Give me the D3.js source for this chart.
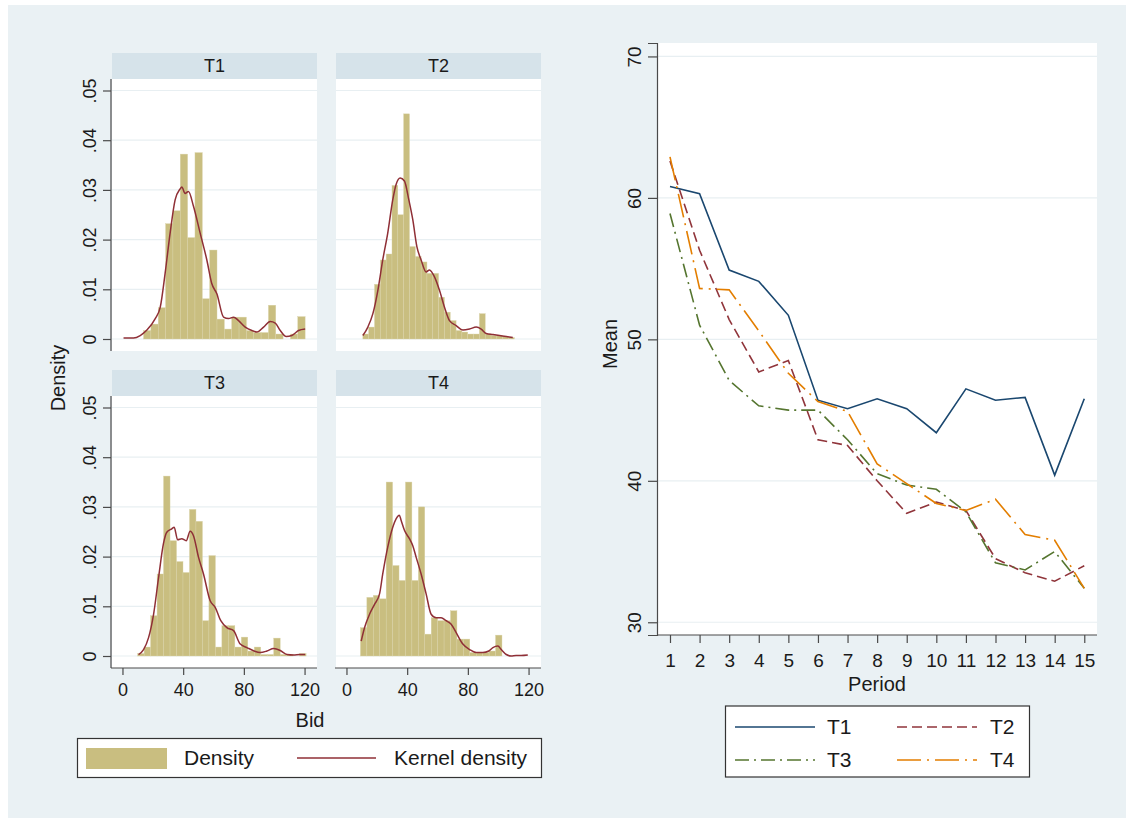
<!DOCTYPE html>
<html>
<head>
<meta charset="utf-8">
<title>Bids: density by treatment and mean by period</title>
<script src="https://cdn.jsdelivr.net/npm/d3@7"></script>
<style>
  body { margin: 0; background: #fff; }
  svg text { font-family: "Liberation Sans", Arial, sans-serif; fill: #1a1a1a; }
</style>
</head>
<body>
<svg id="chart" width="1134" height="824"></svg>
<script>
// ---- data ----
const treatments = ["T1", "T2", "T3", "T4"];

// histogram bins: first edge and width per treatment, then bar heights (density)
const binStart = [13.9, 10.8, 10.0, 9.2];
const binWidth = [4.84, 3.84, 4.27, 4.24];
const histT1 = [0.0017, 0.003, 0.0063, 0.0232, 0.0258, 0.0372, 0.0204, 0.0375, 0.0081, 0.0179, 0.004,
  0.002, 0.0044, 0.0044, 0.0017, 0.0013, 0.0013, 0.0068, 0.001, 0, 0.001, 0.0045];
const histT2 = [0.001, 0.0024, 0.011, 0.0159, 0.0171, 0.0309, 0.025, 0.0453, 0.0186, 0.0166, 0.0155, 0.0132,
  0.0132, 0.0084, 0.0054, 0.0037, 0.0017, 0.0014, 0.001, 0.001, 0.0051, 0.001, 0.0007, 0.0007, 0.0005, 0.0003];
const histT3 = [0.0005, 0.0018, 0.0081, 0.0165, 0.0362, 0.0232, 0.019, 0.0168, 0.0295, 0.0271, 0.0071, 0.0202,
  0.0018, 0.0061, 0.0061, 0.0018, 0.0038, 0.001, 0.0018, 0.0003, 0.0003, 0.0036, 0.0003, 0.0003, 0, 0.0005];
const histT4 = [0.0057, 0.0118, 0.0122, 0.0115, 0.035, 0.0182, 0.0152, 0.035, 0.0152, 0.030, 0.0044, 0.0077,
  0.0071, 0.0071, 0.0091, 0.0034, 0.0034, 0.0007, 0.0007, 0.0007, 0.001, 0.0042, 0, 0, 0, 0];

// kernel density curves: [bid, density]
const kdeT1 = [[0.7, 0.0002], [7.3, 0.0002], [11.7, 0.0007], [16.1, 0.0018], [21.6, 0.0041], [24.9, 0.0064],
  [28.1, 0.0132], [31.4, 0.0213], [34.7, 0.028], [38.0, 0.0302], [39.1, 0.0306], [41.3, 0.0293], [43.5, 0.0297],
  [46.8, 0.0267], [51.2, 0.0213], [55.6, 0.0159], [58.9, 0.0111], [62.2, 0.0091], [66.6, 0.0044], [69.9, 0.0041],
  [73.2, 0.0044], [76.5, 0.0037], [80.9, 0.0024], [85.3, 0.0017], [88.6, 0.0014], [93.0, 0.0024], [97.4, 0.0035],
  [100.7, 0.0032], [104.0, 0.0017], [107.9, 0.0005], [111.6, 0.0007], [116.0, 0.0017], [120.4, 0.002]];
const kdeT2 = [[10.8, 0.0007], [14.1, 0.0024], [17.4, 0.0051], [20.7, 0.0098], [23.9, 0.0159], [27.2, 0.0213],
  [30.5, 0.028], [32.7, 0.0311], [35.4, 0.0324], [38.2, 0.0318], [41.1, 0.028], [43.7, 0.024], [46.4, 0.0186],
  [49.2, 0.0159], [52.5, 0.0135], [54.7, 0.0139], [58.0, 0.0125], [61.3, 0.0098], [64.6, 0.0064], [67.9, 0.0037],
  [72.3, 0.0027], [76.7, 0.0018], [81.1, 0.002], [85.5, 0.0024], [88.8, 0.002], [92.1, 0.0011], [96.5, 0.0009],
  [100.9, 0.0007], [105.3, 0.0005], [109.6, 0.0003]];
const kdeT3 = [[10.6, 0.0003], [13.9, 0.0013], [17.2, 0.0037], [20.5, 0.0084], [23.8, 0.0158], [27.0, 0.0226],
  [29.2, 0.0249], [32.5, 0.0256], [34.1, 0.0259], [36.3, 0.0234], [39.1, 0.0236], [42.0, 0.0232], [44.6, 0.0251],
  [46.8, 0.0242], [50.1, 0.0199], [53.4, 0.0165], [57.8, 0.0111], [61.1, 0.0098], [64.8, 0.0071], [68.8, 0.0057],
  [73.2, 0.0051], [77.6, 0.0024], [82.0, 0.0017], [86.8, 0.001], [90.8, 0.0007], [95.2, 0.001], [99.6, 0.0015],
  [104.0, 0.0011], [108.4, 0.0003], [112.7, 0.0002], [117.1, 0.0003], [120.4, 0.0003]];
const kdeT4 = [[9.7, 0.003], [11.9, 0.0057], [15.2, 0.0084], [18.5, 0.0104], [21.8, 0.0125], [23.9, 0.0165],
  [27.2, 0.0219], [30.5, 0.0259], [32.7, 0.0276], [34.9, 0.0283], [36.0, 0.0273], [38.2, 0.0253], [41.5, 0.0236],
  [43.7, 0.0222], [45.9, 0.0199], [49.2, 0.0165], [52.5, 0.0125], [55.8, 0.0084], [59.1, 0.0077], [62.4, 0.0077],
  [65.7, 0.0071], [69.0, 0.0064], [72.3, 0.0047], [76.7, 0.0024], [81.1, 0.0013], [85.5, 0.0007], [89.9, 0.0007],
  [93.8, 0.001], [96.5, 0.0017], [99.8, 0.002], [102.0, 0.0013], [105.3, 0.0003], [108.5, 0], [111.8, 0.0001],
  [115.1, 0.0001], [119.5, 0.0002]];

const densityTicks = [0, 0.01, 0.02, 0.03, 0.04, 0.05];
const bidTicks = [0, 40, 80, 120];

// mean bid by period
const periods = [1, 2, 3, 4, 5, 6, 7, 8, 9, 10, 11, 12, 13, 14, 15];
const meanT1 = [60.8, 60.3, 54.9, 54.1, 51.7, 45.7, 45.1, 45.8, 45.1, 43.4, 46.5, 45.7, 45.9, 40.4, 45.8];
const meanT2 = [62.6, 56.3, 51.4, 47.7, 48.5, 42.9, 42.5, 40.0, 37.7, 38.5, 37.9, 34.5, 33.5, 32.9, 34.0];
const meanT3 = [58.9, 51.0, 47.1, 45.3, 45.0, 45.0, 42.9, 40.5, 39.7, 39.4, 37.8, 34.2, 33.7, 35.0, 32.4];
const meanT4 = [62.9, 53.6, 53.5, 50.6, 47.6, 45.6, 44.9, 41.2, 39.8, 38.4, 37.9, 38.7, 36.2, 35.8, 32.4];
const meanTicks = [30, 40, 50, 60, 70];

// ---- styles ----
const BG = "#eaf1f4", STRIP = "#d6e3ea", GRID = "#e8eff2", AXIS = "#4a4a4a";
const BAR = "#c9be80", KDE = "#8f2f36";
const lineColors = ["#1a476f", "#90353b", "#55752f", "#e37e00"];
const lineDash = [null, "10,5", "14,5,2,5", "24,6,2,6"];

const svg = d3.select("#chart");
svg.append("rect").attr("x", 8).attr("y", 5).attr("width", 1118).attr("height", 813).attr("fill", BG);

function styleAxis(g) {
  g.select(".domain").attr("stroke", AXIS).attr("stroke-width", 1.2);
  g.selectAll(".tick line").attr("stroke", AXIS).attr("stroke-width", 1.2);
}

// ---- left: histograms by treatment ----
const hists = [histT1, histT2, histT3, histT4];
const kdes = [kdeT1, kdeT2, kdeT3, kdeT4];
const colX = [112, 336], rowTop = [53, 370];
const pw = 205, hh = 26, ph = 272;

treatments.forEach((t, i) => {
  const col = i % 2, row = Math.floor(i / 2);
  const x0 = colX[col], top = rowTop[row], pTop = top + hh;
  const g = svg.append("g");

  // header strip
  g.append("rect").attr("x", x0).attr("y", top).attr("width", pw).attr("height", hh).attr("fill", STRIP);
  g.append("text").attr("x", x0 + pw / 2).attr("y", top + hh / 2).attr("dy", "0.35em")
    .attr("text-anchor", "middle").style("font-size", "18px").text(t);

  // plot region
  g.append("rect").attr("x", x0).attr("y", pTop).attr("width", pw).attr("height", ph).attr("fill", "#fff");

  const x = d3.scaleLinear().domain([-6.9, 128.2]).range([x0, x0 + pw]);
  const y = d3.scaleLinear().domain([-12 / 4970, 260 / 4970]).range([pTop + ph, pTop]);

  g.selectAll("line.grid").data(densityTicks).join("line").attr("class", "grid")
    .attr("x1", x0).attr("x2", x0 + pw).attr("y1", d => y(d)).attr("y2", d => y(d))
    .attr("stroke", GRID).attr("stroke-width", 1.2);

  const bars = hists[i].map((h, k) => ({ a: binStart[i] + k * binWidth[i], b: binStart[i] + (k + 1) * binWidth[i], h }));
  g.selectAll("rect.bar").data(bars.filter(d => d.h > 0)).join("rect").attr("class", "bar")
    .attr("x", d => x(d.a)).attr("width", d => x(d.b) - x(d.a))
    .attr("y", d => y(d.h)).attr("height", d => y(0) - y(d.h))
    .attr("fill", BAR).attr("stroke", "#d9d3a8").attr("stroke-width", 0.4);

  const kline = d3.line().x(d => x(d[0])).y(d => y(d[1])).curve(d3.curveMonotoneX);
  g.append("path").datum(kdes[i]).attr("d", kline)
    .attr("fill", "none").attr("stroke", KDE).attr("stroke-width", 1.5);

  if (col === 0) {
    const ya = g.append("g").attr("transform", `translate(${x0 - 1},0)`)
      .call(d3.axisLeft(y).tickValues(densityTicks).tickSizeOuter(0).tickSize(8)
        .tickFormat(d => d === 0 ? "0" : d3.format(".2f")(d).replace(/^0/, "")));
    styleAxis(ya);
    ya.select(".domain").attr("d", `M0,${pTop}V${pTop + ph}`);
    ya.selectAll(".tick text").attr("x", 0).attr("y", 0).attr("dy", "0.35em")
      .attr("text-anchor", "middle").attr("transform", "translate(-21,0) rotate(-90)")
      .style("font-size", "18px").attr("fill", "#1a1a1a");
  }
  if (row === 1) {
    const xa = g.append("g").attr("transform", `translate(0,${pTop + ph})`)
      .call(d3.axisBottom(x).tickValues(bidTicks).tickSizeOuter(0).tickSize(7).tickPadding(8));
    styleAxis(xa);
    xa.select(".domain").attr("d", `M${x0 - 1},0H${x0 + pw}`);
    xa.selectAll(".tick text").style("font-size", "18px").attr("fill", "#1a1a1a");
  }
});

svg.append("text").attr("x", 58).attr("y", 378).attr("text-anchor", "middle").attr("dy", "0.35em")
  .attr("transform", "rotate(-90,58,378)").style("font-size", "20px").text("Density");
svg.append("text").attr("x", 310).attr("y", 727).attr("text-anchor", "middle")
  .style("font-size", "20px").text("Bid");

// left legend
const lg = svg.append("g");
lg.append("rect").attr("x", 77.5).attr("y", 738.5).attr("width", 464).attr("height", 39)
  .attr("fill", "#fff").attr("stroke", "#333").attr("stroke-width", 1.2);
lg.append("rect").attr("x", 86).attr("y", 748).attr("width", 81).attr("height", 21).attr("fill", BAR);
lg.append("text").attr("x", 184).attr("y", 758).attr("dy", "0.35em").style("font-size", "21px").text("Density");
lg.append("line").attr("x1", 297).attr("x2", 376).attr("y1", 758).attr("y2", 758)
  .attr("stroke", KDE).attr("stroke-width", 1.5);
lg.append("text").attr("x", 394).attr("y", 758).attr("dy", "0.35em").style("font-size", "21px").text("Kernel density");

// ---- right: mean by period ----
const rx0 = 657, rx1 = 1097, ry0 = 43, ry1 = 635;
svg.append("rect").attr("x", rx0).attr("y", ry0).attr("width", rx1 - rx0).attr("height", ry1 - ry0).attr("fill", "#fff");

const xP = d3.scaleLinear().domain([0.561, 15.43]).range([rx0, rx1]);
const yM = d3.scaleLinear().domain([29.1, 70.95]).range([ry1, ry0]);

svg.selectAll("line.mgrid").data(meanTicks).join("line").attr("class", "mgrid")
  .attr("x1", rx0).attr("x2", rx1).attr("y1", d => yM(d)).attr("y2", d => yM(d))
  .attr("stroke", GRID).attr("stroke-width", 1.2);

const means = [meanT1, meanT2, meanT3, meanT4];
const mline = d3.line().x((d, k) => xP(periods[k])).y(d => yM(d));
means.forEach((m, i) => {
  svg.append("path").datum(m).attr("d", mline).attr("fill", "none")
    .attr("stroke", lineColors[i]).attr("stroke-width", 1.6)
    .attr("stroke-dasharray", lineDash[i]);
});

const yAx = svg.append("g").attr("transform", `translate(${rx0},0)`)
  .call(d3.axisLeft(yM).tickValues(meanTicks).tickSizeOuter(0).tickSize(9));
styleAxis(yAx);
yAx.selectAll(".tick text").attr("x", 0).attr("y", 0).attr("dy", "0.35em")
  .attr("text-anchor", "middle").attr("transform", "translate(-23,0) rotate(-90)")
  .style("font-size", "19px").attr("fill", "#1a1a1a");

const xAx = svg.append("g").attr("transform", `translate(0,${ry1})`)
  .call(d3.axisBottom(xP).tickValues(periods).tickSizeOuter(0).tickSize(8).tickPadding(11));
styleAxis(xAx);
xAx.select(".domain").attr("d", `M${rx0},0H${rx1}`);
xAx.selectAll(".tick text").style("font-size", "19px").attr("fill", "#1a1a1a");

svg.append("text").attr("x", 610).attr("y", 344).attr("text-anchor", "middle").attr("dy", "0.35em")
  .attr("transform", "rotate(-90,610,344)").style("font-size", "20px").text("Mean");
svg.append("text").attr("x", 877).attr("y", 691).attr("text-anchor", "middle")
  .style("font-size", "20px").text("Period");

// right legend
const rg = svg.append("g");
rg.append("rect").attr("x", 725.5).attr("y", 706).attr("width", 304).attr("height", 71)
  .attr("fill", "#fff").attr("stroke", "#333").attr("stroke-width", 1.2);
const legPos = [[735, 827, 727], [897, 990, 727], [735, 827, 760], [897, 990, 760]];
treatments.forEach((t, i) => {
  const [lx, tx, ly] = legPos[i];
  rg.append("line").attr("x1", lx).attr("x2", lx + 80).attr("y1", ly).attr("y2", ly)
    .attr("stroke", lineColors[i]).attr("stroke-width", 1.6).attr("stroke-dasharray", lineDash[i]);
  rg.append("text").attr("x", tx).attr("y", ly).attr("dy", "0.35em").style("font-size", "21px").text(t);
});
</script>
</body>
</html>
